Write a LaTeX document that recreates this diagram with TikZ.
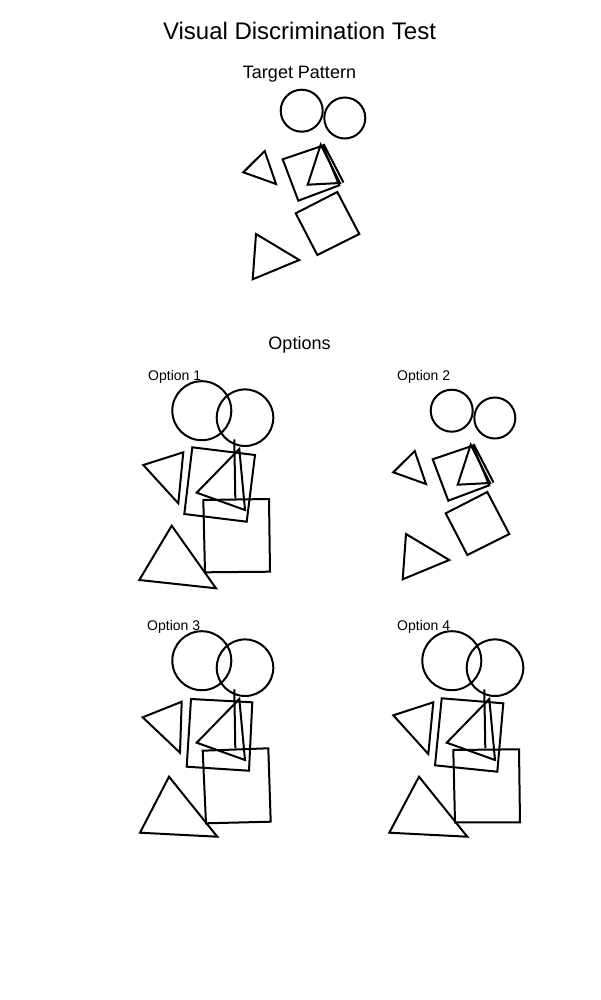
\documentclass[tikz,border=0pt]{standalone}
\usepackage{fontspec}
\setmainfont{Liberation Sans}
\newcommand\vdtTargetShapes{%
  \draw[shp] (301.7,110.7) circle (21pt);
  \draw[shp] (344.8,118) circle (20.5pt);
  \draw[shp] (243.3,172.3) -- (264.7,151) -- (276,184) -- cycle;
  \draw[shp] (282.7,159.3) -- (322.7,145.7) -- (339.3,185.3) -- (298.3,200.7) -- cycle;
  \draw[shp] (320.7,144.7) -- (307.7,184.7) -- (340,183) -- cycle;
  \draw[shp] (323.5,144) -- (343.5,182.5);
  \draw[shp] (295.7,213.3) -- (337.3,192) -- (359.3,234) -- (317.3,255) -- cycle;
  \draw[shp] (252.7,279.3) -- (256,234) -- (299.3,260) -- cycle;
}
\begin{document}
\begin{tikzpicture}[x=1pt,y=-1pt,
  shp/.style={draw=black,line width=2pt,line join=miter},
  ttl/.style={font=\fontsize{24}{28}\selectfont,anchor=base,inner sep=0pt},
  sub/.style={font=\fontsize{18}{22}\selectfont,anchor=base,inner sep=0pt},
  lbl/.style={font=\fontsize{14}{17}\selectfont,anchor=base west,inner sep=0pt}]
\useasboundingbox (0,0) rectangle (600,1000);
\fill[white] (0,0) rectangle (600,1000);

\node[ttl] (title) at (299.5,39.5) {Visual Discrimination Test};
\node[sub] (target) at (299.5,79) {Target Pattern};
\node[sub] (options) at (299.5,349.5) {Options};
\node[lbl] (opt1) at (148,380) {Option 1};
\node[lbl] (opt2) at (397,380) {Option 2};
\node[lbl] (opt3) at (147,630) {Option 3};
\node[lbl] (opt4) at (397,630) {Option 4};

% Target pattern
\vdtTargetShapes
% Option 2 (same as target, shifted)
\begin{scope}[shift={(150,300)}]
\vdtTargetShapes
\end{scope}

% Option 1
\draw[shp] (201.8,410.7) circle (29.5pt);
\draw[shp] (245,417.7) circle (28.3pt);
\draw[shp] (234.3,439.3) -- (235.3,498.3);
\draw[shp] (143.3,465) -- (183.3,452.3) -- (178.3,503.3) -- cycle;
\draw[shp] (192.3,447.3) -- (255,455) -- (246.7,521.7) -- (184.3,514) -- cycle;
\draw[shp] (239.3,449) -- (196.7,492.7) -- (245,510) -- cycle;
\draw[shp] (203.3,500) -- (269,499) -- (270,571.7) -- (205,572.3) -- cycle;
\draw[shp] (171.7,525.7) -- (139.3,580) -- (216,588.3) -- cycle;

% Option 3
\draw[shp] (201.8,660.7) circle (29.5pt);
\draw[shp] (245,667.7) circle (28.3pt);
\draw[shp] (234.3,689.3) -- (235.3,748.3);
\draw[shp] (142.7,717.3) -- (181.7,701.7) -- (180,752.7) -- cycle;
\draw[shp] (191,699) -- (252.3,702.3) -- (249,770.7) -- (186.7,766.7) -- cycle;
\draw[shp] (239.3,699) -- (196.7,742.7) -- (245,760) -- cycle;
\draw[shp] (202.7,750.7) -- (268.3,748.3) -- (270.7,821.7) -- (206,823.3) -- cycle;
\draw[shp] (169,776.7) -- (140,832.7) -- (217.3,836.7) -- cycle;

% Option 4
\draw[shp] (451.8,660.7) circle (29.5pt);
\draw[shp] (495,667.7) circle (28.3pt);
\draw[shp] (484.3,689.3) -- (485.3,748.3);
\draw[shp] (393.3,715.3) -- (433.3,702.3) -- (428.3,754) -- cycle;
\draw[shp] (441.7,698.3) -- (503.3,703.3) -- (497.3,771.7) -- (435,765.3) -- cycle;
\draw[shp] (489.3,699) -- (446.7,742.7) -- (495,760) -- cycle;
\draw[shp] (453.3,750) -- (519,749.3) -- (520,822.3) -- (455,822.3) -- cycle;
\draw[shp] (419,776.7) -- (389.3,832.7) -- (467.3,836.7) -- cycle;
\end{tikzpicture}
\end{document}
